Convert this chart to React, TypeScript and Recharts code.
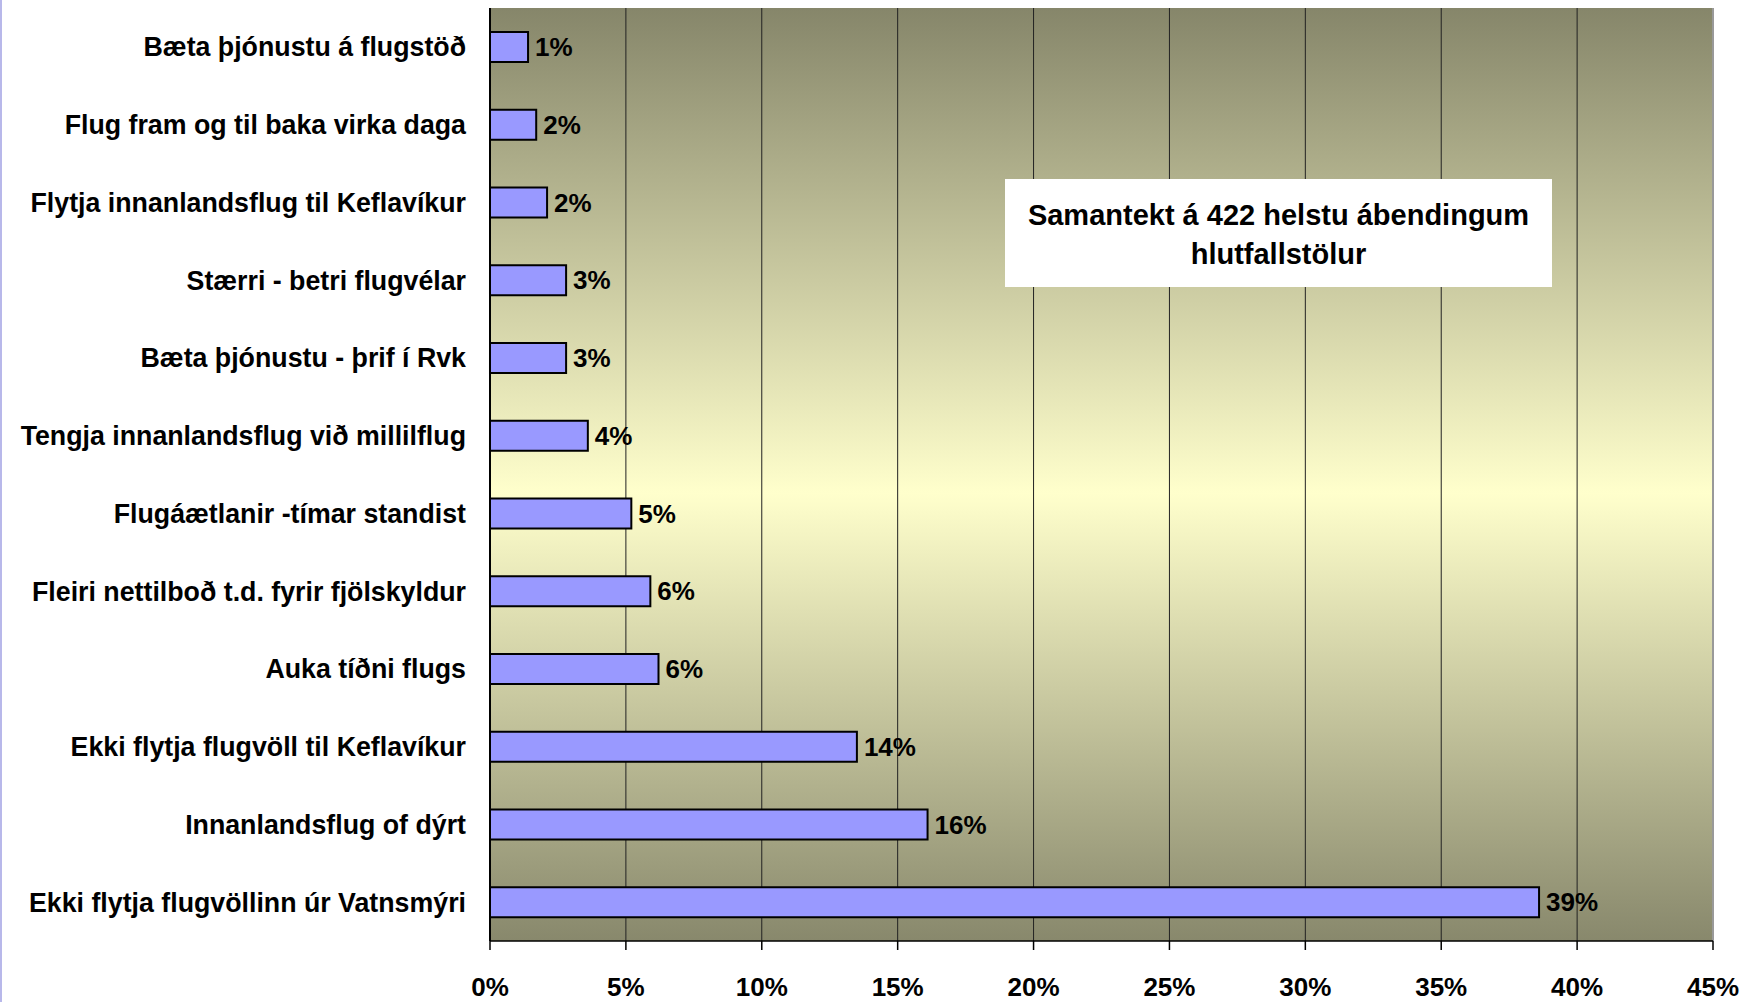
import React from "react";
import { BarChart, Bar, XAxis, YAxis, CartesianGrid, LabelList, ReferenceLine } from "recharts";

const categories = [
  "Bæta þjónustu á flugstöð",
  "Flug fram og til baka virka daga",
  "Flytja innanlandsflug til Keflavíkur",
  "Stærri - betri flugvélar",
  "Bæta þjónustu - þrif í Rvk",
  "Tengja innanlandsflug við millilflug",
  "Flugáætlanir -tímar standist",
  "Fleiri nettilboð t.d. fyrir fjölskyldur",
  "Auka tíðni flugs",
  "Ekki flytja flugvöll til Keflavíkur",
  "Innanlandsflug of dýrt",
  "Ekki flytja flugvöllinn úr Vatnsmýri",
];
const values = [1.4, 1.7, 2.1, 2.8, 2.8, 3.6, 5.2, 5.9, 6.2, 13.5, 16.1, 38.6];
const xTicks = [0, 5, 10, 15, 20, 25, 30, 35, 40, 45];
const bandTicks = [0, 1, 2, 3, 4, 5, 6, 7, 8, 9, 10, 11, 12];
const titleLines = ["Samantekt á 422 helstu ábendingum", "hlutfallstölur"];

const data = categories.map((name, i) => ({ name, value: values[i] }));

const FONT = "'Liberation Sans', Arial, sans-serif";

export default function App() {
  return (
    <div style={{ position: "absolute", left: 0, top: 0, width: 1751, height: 1002, background: "#fff", fontFamily: FONT }}>
      <div style={{ position: "absolute", left: 0, top: 0, width: 2, height: 1002, background: "#b8b8ea" }} />
      <BarChart
        width={1751}
        height={1002}
        data={data}
        layout="vertical"
        margin={{ top: 8, right: 38, bottom: 0, left: 0 }}
        barCategoryGap={0}
      >
        <defs>
          <linearGradient id="bg" x1="0" y1="0" x2="0" y2="1">
            <stop offset="0%" stopColor="#86866a" />
            <stop offset="52%" stopColor="#ffffcc" />
            <stop offset="100%" stopColor="#88886c" />
          </linearGradient>
        </defs>
        <CartesianGrid horizontal={false} stroke="#222" strokeWidth={1} fill="url(#bg)" fillOpacity={1} />
        <XAxis
          type="number"
          domain={[0, 45]}
          ticks={xTicks}
          interval={0}
          tickFormatter={(v: number) => `${v}%`}
          tick={{ fontSize: 26, fontWeight: "bold", fill: "#000", fontFamily: FONT }}
          tickSize={9}
          tickMargin={28}
          height={61}
          axisLine={{ stroke: "#000", strokeWidth: 1.5 }}
          tickLine={{ stroke: "#000", strokeWidth: 1.5 }}
        />
        <YAxis
          yAxisId="grid"
          type="number"
          domain={[0, 12]}
          ticks={bandTicks}
          interval={0}
          allowDataOverflow
          tick={false}
          tickSize={8}
          width={0}
          axisLine={false}
          tickLine={{ stroke: "#000", strokeWidth: 1.5 }}
        />
        <YAxis
          yAxisId="cat"
          type="category"
          dataKey="name"
          width={490}
          interval={0}
          tickLine={false}
          tickSize={8}
          tickMargin={16}
          axisLine={{ stroke: "#000", strokeWidth: 2 }}
          tick={{ fontSize: 26.75, fontWeight: "bold", fill: "#000", fontFamily: FONT }}
        />
        <ReferenceLine yAxisId="grid" y={12} stroke="#999" strokeWidth={2} />
        <ReferenceLine yAxisId="grid" x={45} stroke="#999" strokeWidth={2} />
        <Bar
          yAxisId="cat"
          dataKey="value"
          fill="#9999ff"
          stroke="#000"
          strokeWidth={2}
          barSize={30}
          isAnimationActive={false}
        >
          <LabelList
            dataKey="value"
            position="right"
            offset={7}
            formatter={(v: number) => `${Math.round(v)}%`}
            style={{ fontSize: 26, fontWeight: "bold", fill: "#000", fontFamily: FONT }}
          />
        </Bar>
      </BarChart>
      <div
        style={{
          position: "absolute",
          left: 1005,
          top: 179,
          width: 547,
          height: 108,
          background: "#fff",
          boxSizing: "border-box",
          paddingTop: 17,
          textAlign: "center",
          fontSize: 29,
          lineHeight: "39px",
          fontWeight: "bold",
          color: "#000",
          fontFamily: FONT,
        }}
      >
        {titleLines.map((l) => (
          <div key={l}>{l}</div>
        ))}
      </div>
    </div>
  );
}
